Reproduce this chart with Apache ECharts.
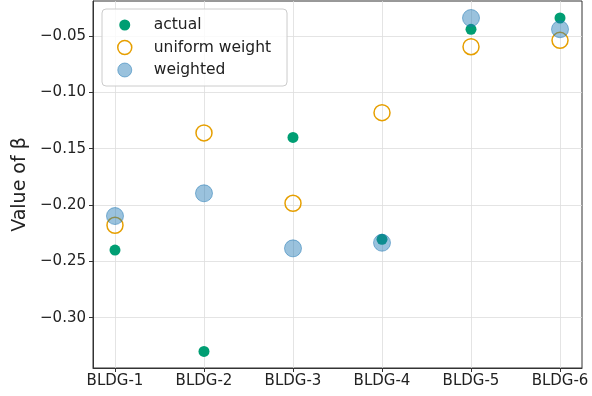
<!DOCTYPE html>
<html>
<head>
<meta charset="utf-8">
<script src="https://cdn.jsdelivr.net/npm/echarts@6/dist/echarts.min.js"></script>
<style>html,body{margin:0;padding:0;background:#fff}#c{width:592px;height:396px}</style>
</head>
<body>
<div id="c"></div>
<script>
const categories = ['BLDG-1', 'BLDG-2', 'BLDG-3', 'BLDG-4', 'BLDG-5', 'BLDG-6'];
const actual = [-0.240, -0.330, -0.140, -0.2305, -0.044, -0.034];
const uniformWeight = [-0.218, -0.136, -0.1985, -0.118, -0.0595, -0.0538];
const weighted = [-0.2098, -0.1896, -0.2385, -0.2335, -0.034, -0.044];
const yTicks = [-0.30, -0.25, -0.20, -0.15, -0.10, -0.05];

const toPts = arr => arr.map((v, i) => [i, v]);
const font = 'DejaVu Sans';
const gridColor = '#dddddd';
const smallDot = 'path://M0,0L0.001,0M14,14L14.001,14M12.5,7A5.5,5.5 0 1 1 1.5,7A5.5,5.5 0 1 1 12.5,7Z';

const chart = echarts.init(document.getElementById('c'), null, { renderer: 'canvas' });
chart.setOption({
  animation: false,
  backgroundColor: '#fff',
  grid: { left: 93, right: 10, top: 1, bottom: 28, show: true, borderColor: '#333', borderWidth: 1, backgroundColor: 'transparent' },
  legend: {
    orient: 'vertical', left: 102, top: 9,
    padding: [8, 16, 8, 15], itemGap: 6.5, itemWidth: 14, itemHeight: 14,
    borderColor: '#cccccc', borderWidth: 1, borderRadius: 4,
    backgroundColor: 'rgba(255,255,255,0.8)',
    textStyle: { fontFamily: font, fontSize: 15.5, color: '#222', padding: [0, 0, 0, 17] },
    data: [
      { name: 'actual', icon: smallDot, itemStyle: { color: '#009E73' } },
      { name: 'uniform weight', icon: 'circle', itemStyle: { color: 'rgba(255,255,255,0)', borderColor: '#E69F00', borderWidth: 1.5 } },
      { name: 'weighted', icon: 'circle', itemStyle: { color: 'rgba(31,119,180,0.45)', borderColor: 'rgba(31,119,180,0.5)', borderWidth: 1 } }
    ]
  },
  xAxis: {
    type: 'value', min: -0.247, max: 5.247,
    axisLine: { show: true, onZero: false, lineStyle: { color: '#333', width: 1 } },
    axisTick: { show: true, length: 4, lineStyle: { color: '#333' }, customValues: [0, 1, 2, 3, 4, 5] },
    axisLabel: { customValues: [0, 1, 2, 3, 4, 5], formatter: v => categories[Math.round(v)] || '', fontFamily: font, fontSize: 15, color: '#222', margin: 6 },
    splitLine: { show: true, lineStyle: { color: gridColor, width: 0.8 } }
  },
  yAxis: {
    type: 'value', min: -0.3447, max: -0.0189,
    name: 'Value of β', nameLocation: 'middle', nameGap: 57,
    nameTextStyle: { fontFamily: font, fontSize: 19, color: '#222' },
    axisLine: { show: true, onZero: false, lineStyle: { color: '#333', width: 1 } },
    axisTick: { show: true, length: 4, lineStyle: { color: '#333' }, customValues: yTicks },
    axisLabel: { customValues: yTicks, formatter: v => v.toFixed(2).replace('-', '\u2212'), fontFamily: font, fontSize: 15, color: '#222', margin: 7 },
    splitLine: { show: true, lineStyle: { color: gridColor, width: 0.8 } }
  },
  series: [
    { name: 'actual', type: 'scatter', data: toPts(actual), symbolSize: 11, z: 2,
      itemStyle: { color: '#009E73', opacity: 1 } },
    { name: 'uniform weight', type: 'scatter', data: toPts(uniformWeight), symbolSize: 16, z: 3,
      itemStyle: { color: 'rgba(255,255,255,0)', borderColor: '#E69F00', borderWidth: 1.5, opacity: 1 } },
    { name: 'weighted', type: 'scatter', data: toPts(weighted), symbolSize: 17, z: 4,
      itemStyle: { color: 'rgba(31,119,180,0.45)', borderColor: 'rgba(31,119,180,0.5)', borderWidth: 1, opacity: 1 } }
  ]
});
</script>
</body>
</html>
